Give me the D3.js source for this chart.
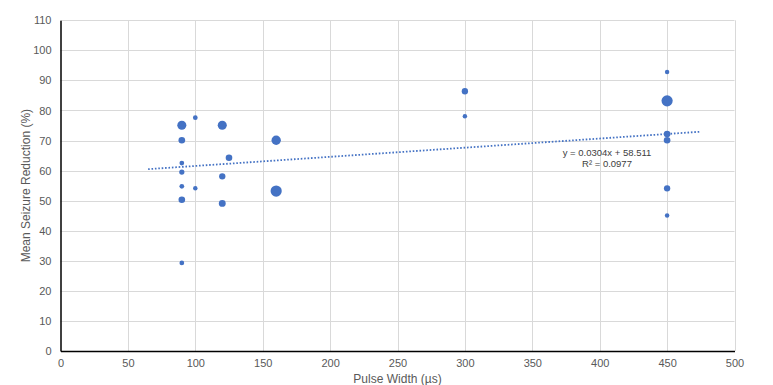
<!DOCTYPE html>
<html>
<head>
<meta charset="utf-8">
<script src="https://cdn.jsdelivr.net/npm/d3@7"></script>
<style>
  body { margin: 0; background: #fff; }
  svg { display: block; font-family: "Liberation Sans", Arial, sans-serif; }
</style>
</head>
<body>
<div id="chart"></div>
<script>
// pulse width (µs), mean seizure reduction (%), bubble size
var pulseWidth = [90, 90, 90, 90, 90, 90, 90, 100, 100, 120, 120, 120, 125, 160, 160, 300, 300, 450, 450, 450, 450, 450, 450];
var reduction = [75.1, 70.1, 62.5, 59.5, 54.8, 50.3, 29.3, 77.6, 54.1, 75.1, 58.1, 49.1, 64.3, 70.1, 53.2, 86.4, 78.1, 92.8, 83.2, 72.2, 70.1, 54.1, 45.1];
var bubbleSize = [65, 35, 18, 22, 18, 35, 18, 18, 16, 65, 32, 38, 35, 70, 100, 32, 16, 16, 100, 35, 35, 32, 16];

var xTicks = [0, 50, 100, 150, 200, 250, 300, 350, 400, 450, 500];
var yTicks = [0, 10, 20, 30, 40, 50, 60, 70, 80, 90, 100, 110];

// trendline as printed on the chart
var trendSlope = 0.0304,
  trendIntercept = 58.511,
  trendR2 = 0.0977,
  trendRange = [65, 475];

var width = 773,
  height = 385,
  margin = {top: 20.3, right: 38.5, bottom: 34, left: 60.5};

var svg = d3.select("#chart").append("svg")
  .attr("width", width)
  .attr("height", height);

var x = d3.scaleLinear().domain([0, 500]).range([margin.left, width - margin.right]),
  y = d3.scaleLinear().domain([0, 110]).range([height - margin.bottom, margin.top]),
  r = d3.scaleSqrt().domain([0, 100]).range([0, 5.6]);

var grid = svg.append("g").attr("stroke", "#d9d9d9").attr("stroke-width", 1);

grid.selectAll(".h").data(yTicks.slice(1)).enter().append("line")
  .attr("x1", margin.left).attr("x2", width - margin.right)
  .attr("y1", d => Math.round(y(d)) + 0.5).attr("y2", d => Math.round(y(d)) + 0.5);

grid.selectAll(".v").data(xTicks.slice(1)).enter().append("line")
  .attr("y1", margin.top).attr("y2", height - margin.bottom)
  .attr("x1", d => Math.round(x(d)) + 0.5).attr("x2", d => Math.round(x(d)) + 0.5);

// axes
var xAxis = svg.append("g")
  .attr("transform", "translate(0," + (height - margin.bottom) + ")")
  .call(d3.axisBottom(x).tickValues(xTicks).tickSize(0).tickPadding(8));
var yAxis = svg.append("g")
  .attr("transform", "translate(" + margin.left + ",0)")
  .call(d3.axisLeft(y).tickValues(yTicks).tickSize(0).tickPadding(9));

[xAxis, yAxis].forEach(function(a) {
  a.select(".domain").attr("stroke", "#000").attr("stroke-width", 1.5);
  a.selectAll("text")
    .attr("fill", "#595959")
    .style("font-size", "11px")
    .style("font-family", "'Liberation Sans', Arial, sans-serif");
});

// trendline
var trend = trendRange.map(v => [v, trendSlope * v + trendIntercept]);
svg.append("path")
  .datum(trend)
  .attr("fill", "none")
  .attr("stroke", "#4472c4")
  .attr("stroke-width", 1.8)
  .attr("stroke-dasharray", "1.6,1.8")
  .attr("d", d3.line().x(d => x(d[0])).y(d => y(d[1])));

// bubbles
var points = pulseWidth.map((v, i) => ({x: v, y: reduction[i], s: bubbleSize[i]}));
svg.append("g").selectAll("circle")
  .data(points)
  .enter().append("circle")
  .attr("cx", d => x(d.x))
  .attr("cy", d => y(d.y))
  .attr("r", d => r(d.s))
  .attr("fill", "#4472c4");

// equation label
var eq = svg.append("text")
  .attr("x", 607)
  .attr("y", 156)
  .attr("text-anchor", "middle")
  .attr("fill", "#404040")
  .style("font-size", "9.5px");
eq.append("tspan").attr("x", 607).text("y = " + trendSlope + "x + " + trendIntercept);
eq.append("tspan").attr("x", 607).attr("dy", 10.5).text("R² = " + trendR2);

// axis titles
svg.append("text")
  .attr("x", (margin.left + width - margin.right) / 2)
  .attr("y", 383)
  .attr("text-anchor", "middle")
  .attr("fill", "#595959")
  .style("font-size", "12px")
  .text("Pulse Width (µs)");

svg.append("text")
  .attr("transform", "translate(30," + ((margin.top + height - margin.bottom) / 2) + ") rotate(-90)")
  .attr("text-anchor", "middle")
  .attr("fill", "#595959")
  .style("font-size", "12px")
  .text("Mean Seizure Reduction (%)");
</script>
</body>
</html>
